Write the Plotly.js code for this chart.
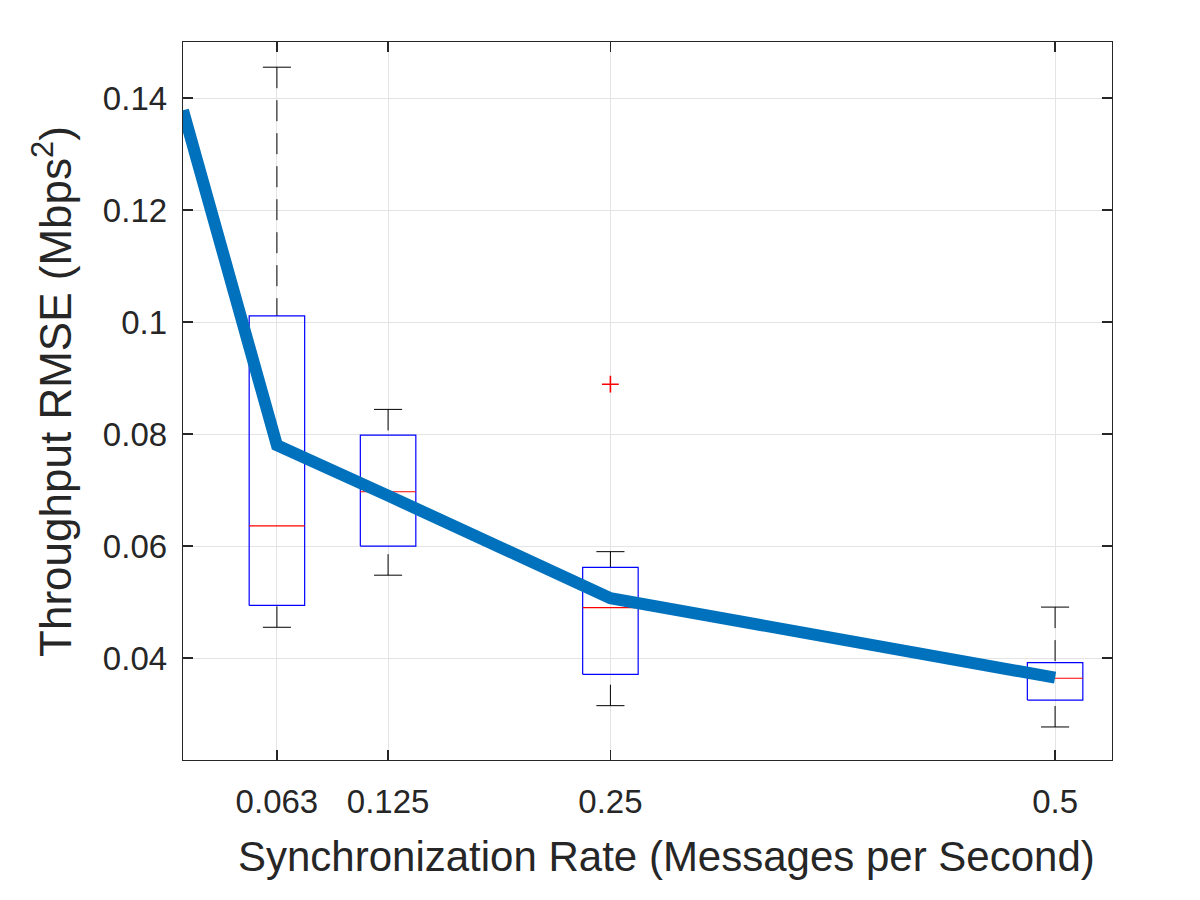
<!DOCTYPE html>
<html>
<head>
<meta charset="utf-8">
<script src="https://cdn.plot.ly/plotly-3.0.1.min.js"></script>
<style>
  html, body { margin: 0; padding: 0; background: #ffffff; }
  #chart { width: 1200px; height: 900px; }
</style>
</head>
<body>
<div id="chart"></div>
<script>
// Synchronization rates (messages per second) and their tick labels
const rates = [0.0625, 0.125, 0.25, 0.5];
const rateLabels = ['0.063', '0.125', '0.25', '0.5'];

// Box statistics of throughput RMSE per rate
const upperWhisker = [0.1455, 0.0844, 0.0590, 0.0491];
const q3 = [0.1011, 0.0798, 0.0562, 0.0392];
const medians = [0.0636, 0.0697, 0.0490, 0.0364];
const q1 = [0.0494, 0.0600, 0.0371, 0.0325];
const lowerWhisker = [0.0455, 0.0548, 0.0315, 0.0277];

// Outlying samples
const outlierRate = [0.25];
const outlierValue = [0.0889];

// Mean RMSE trend
const trendRate = [0.0097, 0.0625, 0.125, 0.25, 0.5];
const trendValue = [0.1378, 0.0780, 0.0690, 0.0507, 0.0365];

// Y ticks
const yTicks = [0.04, 0.06, 0.08, 0.1, 0.12, 0.14];
const yTickLabels = ['0.04', '0.06', '0.08', '0.1', '0.12', '0.14'];

// Box and cap half-widths in x units
const boxHalf = 0.0156;
const capHalf = 0.0079;

const boxX = [], boxY = [];
const medX = [], medY = [];
const whiskX = [], whiskY = [];
const capX = [], capY = [];
rates.forEach((r, i) => {
  boxX.push(r - boxHalf, r + boxHalf, r + boxHalf, r - boxHalf, r - boxHalf, null);
  boxY.push(q1[i], q1[i], q3[i], q3[i], q1[i], null);
  medX.push(r - boxHalf, r + boxHalf, null);
  medY.push(medians[i], medians[i], null);
  // whiskers run from the cap towards the box
  whiskX.push(r, r, null, r, r, null);
  whiskY.push(upperWhisker[i], q3[i], null, lowerWhisker[i], q1[i], null);
  capX.push(r - capHalf, r + capHalf, null, r - capHalf, r + capHalf, null);
  capY.push(upperWhisker[i], upperWhisker[i], null, lowerWhisker[i], lowerWhisker[i], null);
});

const traces = [
  { x: whiskX, y: whiskY, mode: 'lines', line: { color: '#000000', width: 1, dash: '21px,12px' }, hoverinfo: 'skip' },
  { x: capX, y: capY, mode: 'lines', line: { color: '#000000', width: 1 }, hoverinfo: 'skip' },
  { x: boxX, y: boxY, mode: 'lines', line: { color: '#0000ff', width: 1.2 }, hoverinfo: 'skip' },
  { x: medX, y: medY, mode: 'lines', line: { color: '#ff0000', width: 1.2 }, hoverinfo: 'skip' },
  { x: outlierRate, y: outlierValue, mode: 'markers',
    marker: { symbol: 'cross-thin-open', size: 12, color: '#ff0000', line: { color: '#ff0000', width: 1.6 } } },
  { x: trendRate, y: trendValue, mode: 'lines', line: { color: '#0072BD', width: 12 } }
];

const fontFamily = '"Liberation Sans", Arial, Helvetica, sans-serif';
const axisColor = '#262626';

const layout = {
  width: 1200,
  height: 900,
  margin: { l: 183, r: 88, t: 42, b: 140 },
  paper_bgcolor: '#ffffff',
  plot_bgcolor: '#ffffff',
  showlegend: false,
  font: { family: fontFamily, color: axisColor },
  xaxis: {
    range: [0.0097, 0.532],
    tickmode: 'array',
    tickvals: rates,
    ticktext: rateLabels,
    tickfont: { size: 33, color: axisColor, family: fontFamily },
    ticks: 'inside',
    ticklen: 10,
    tickwidth: 1.2,
    tickcolor: axisColor,
    showline: true,
    linecolor: axisColor,
    linewidth: 1.3,
    mirror: 'ticks',
    showgrid: true,
    gridcolor: '#e4e4e4',
    gridwidth: 1,
    zeroline: false,
    ticklabelstandoff: 12
  },
  yaxis: {
    range: [0.0218, 0.15],
    tickmode: 'array',
    tickvals: yTicks,
    ticktext: yTickLabels,
    tickfont: { size: 33, color: axisColor, family: fontFamily },
    ticks: 'inside',
    ticklen: 10,
    tickwidth: 1.2,
    tickcolor: axisColor,
    showline: true,
    linecolor: axisColor,
    linewidth: 1.3,
    mirror: 'ticks',
    showgrid: true,
    gridcolor: '#e4e4e4',
    gridwidth: 1,
    zeroline: false,
    ticklabelstandoff: 8
  },
  annotations: [
    {
      text: 'Synchronization Rate (Messages per Second)',
      xref: 'paper', yref: 'paper',
      x: 0.5205, y: -0.135,
      xanchor: 'center', yanchor: 'middle',
      showarrow: false,
      font: { size: 42, color: axisColor, family: fontFamily }
    },
    {
      text: 'Throughput RMSE (Mbps<sup>2</sup>)',
      xref: 'paper', yref: 'paper',
      x: -0.140, y: 0.514,
      xanchor: 'center', yanchor: 'middle',
      textangle: -90,
      showarrow: false,
      font: { size: 44, color: axisColor, family: fontFamily }
    }
  ]
};

Plotly.newPlot('chart', traces, layout, { displayModeBar: false, staticPlot: true });
</script>
</body>
</html>
